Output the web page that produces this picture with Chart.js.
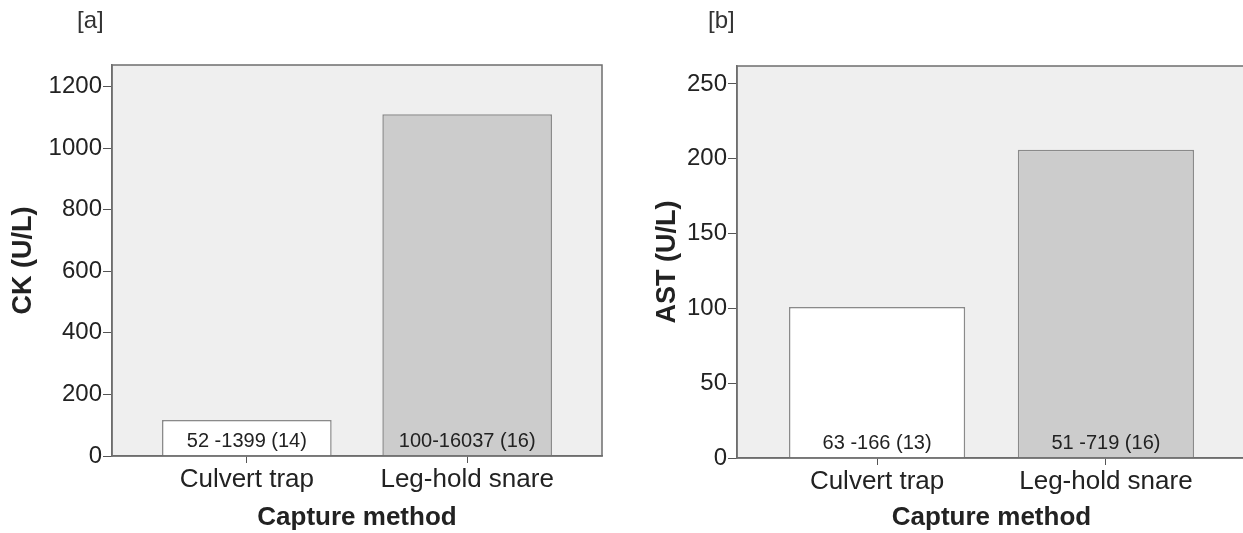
<!DOCTYPE html>
<html lang="en">
<head>
    <meta charset="UTF-8">
    <title>CK and AST by capture method</title>
    <script src="https://cdn.jsdelivr.net/npm/chart.js"></script>
    <style>
        body {
            margin: 0;
            width: 1243px;
            height: 533px;
            overflow: hidden;
            background: #fff;
            position: relative;
            font-family: 'Liberation Sans', Arial, sans-serif;
        }
        .panel {
            position: absolute;
            top: 0;
        }
        .tag {
            position: absolute;
            top: 8px;
            font-size: 24px;
            color: #333;
            line-height: 1;
        }
    </style>
</head>
<body>
    <div class="panel" style="left: 0;">
        <canvas id="ckChart" width="620" height="533"></canvas>
    </div>
    <div class="panel" style="left: 620px;">
        <canvas id="astChart" width="640" height="533"></canvas>
    </div>
    <div class="tag" style="left: 77px;">[a]</div>
    <div class="tag" style="left: 708px;">[b]</div>

    <script>
        // data (medians, ranges and n printed in the bars)
        const categories = ['Culvert trap', 'Leg-hold snare'];
        const ckMedians = [117, 1110];
        const astMedians = [101, 206];
        const ckRanges = ['52 -1399 (14)', '100-16037 (16)'];
        const astRanges = ['63 -166 (13)', '51 -719 (16)'];
        const ckTicks = [0, 200, 400, 600, 800, 1000, 1200];
        const astTicks = [0, 50, 100, 150, 200, 250];
        const barColors = ['#ffffff', '#cccccc'];

        const FONT = "'Liberation Sans', Arial, sans-serif";
        const TEXT = '#222';

        // grey plot background + box around the plot, labels inside the bars
        const panelPlugin = {
            id: 'panel',
            beforeDraw(chart) {
                const a = chart.chartArea;
                const ctx = chart.ctx;
                ctx.save();
                ctx.fillStyle = '#efefef';
                ctx.fillRect(a.left, a.top, a.right - a.left, a.bottom - a.top);
                ctx.restore();
            },
            afterDatasetsDraw(chart) {
                const ranges = chart.options.plugins.panel.ranges;
                const ctx = chart.ctx;
                ctx.save();
                ctx.font = '20px ' + FONT;
                ctx.fillStyle = TEXT;
                ctx.textAlign = 'center';
                ctx.textBaseline = 'alphabetic';
                chart.getDatasetMeta(0).data.forEach((bar, i) => {
                    ctx.fillText(ranges[i], bar.x, chart.chartArea.bottom - 9);
                });
                ctx.restore();
            },
            afterDraw(chart) {
                const a = chart.chartArea;
                const ctx = chart.ctx;
                ctx.save();
                ctx.strokeStyle = '#6e6e6e';
                ctx.lineWidth = 1.5;
                ctx.strokeRect(a.left, a.top, a.right - a.left, a.bottom - a.top);
                ctx.restore();
            }
        };

        function makeChart(id, values, ranges, ticks, yMax, yTitle, box) {
            const ctx = document.getElementById(id).getContext('2d');
            return new Chart(ctx, {
                type: 'bar',
                data: {
                    datasets: [{
                        data: values.map((v, i) => ({ x: i, y: v })),
                        backgroundColor: barColors,
                        borderColor: '#8a8a8a',
                        borderWidth: 1.5,
                        barPercentage: 0.77,
                        categoryPercentage: 1
                    }]
                },
                options: {
                    responsive: false,
                    animation: false,
                    devicePixelRatio: 1,
                    layout: {
                        padding: { top: box.top, right: box.right, left: 0, bottom: 0 }
                    },
                    plugins: {
                        legend: { display: false },
                        tooltip: { enabled: false },
                        panel: { ranges: ranges }
                    },
                    scales: {
                        x: {
                            type: 'linear',
                            min: -0.612,
                            max: 1.612,
                            offset: false,
                            afterBuildTicks: s => { s.ticks = categories.map((c, i) => ({ value: i })); },
                            afterFit: s => { s.height = box.xHeight; },
                            ticks: {
                                callback: v => categories[v],
                                font: { family: FONT, size: 26 },
                                color: TEXT,
                                padding: 1,
                                maxRotation: 0,
                                autoSkip: false
                            },
                            grid: { drawOnChartArea: false, tickLength: 7, color: '#555', offset: false },
                            border: { color: '#6e6e6e', width: 1.5 },
                            title: {
                                display: true,
                                text: 'Capture method',
                                font: { family: FONT, size: 26, weight: 'bold' },
                                color: TEXT,
                                padding: 0
                            }
                        },
                        y: {
                            min: 0,
                            max: yMax,
                            afterBuildTicks: s => { s.ticks = ticks.map(v => ({ value: v })); },
                            afterFit: s => { s.width = box.yWidth; },
                            ticks: {
                                callback: v => String(v),
                                font: { family: FONT, size: 24 },
                                color: TEXT,
                                padding: 1
                            },
                            grid: { drawOnChartArea: false, tickLength: 9, color: '#555' },
                            border: { color: '#6e6e6e', width: 1.5 },
                            title: {
                                display: true,
                                text: yTitle,
                                font: { family: FONT, size: 27, weight: 'bold' },
                                color: TEXT,
                                padding: { top: box.titlePad, bottom: 0 }
                            }
                        }
                    }
                },
                plugins: [panelPlugin]
            });
        }

        makeChart('ckChart', ckMedians, ckRanges, ckTicks, 1270, 'CK (U/L)',
            { top: 65, right: 18, xHeight: 77, yWidth: 112, titlePad: 7 });
        makeChart('astChart', astMedians, astRanges, astTicks, 262, 'AST (U/L)',
            { top: 66, right: 14, xHeight: 75, yWidth: 117, titlePad: 31 });
    </script>
</body>
</html>
